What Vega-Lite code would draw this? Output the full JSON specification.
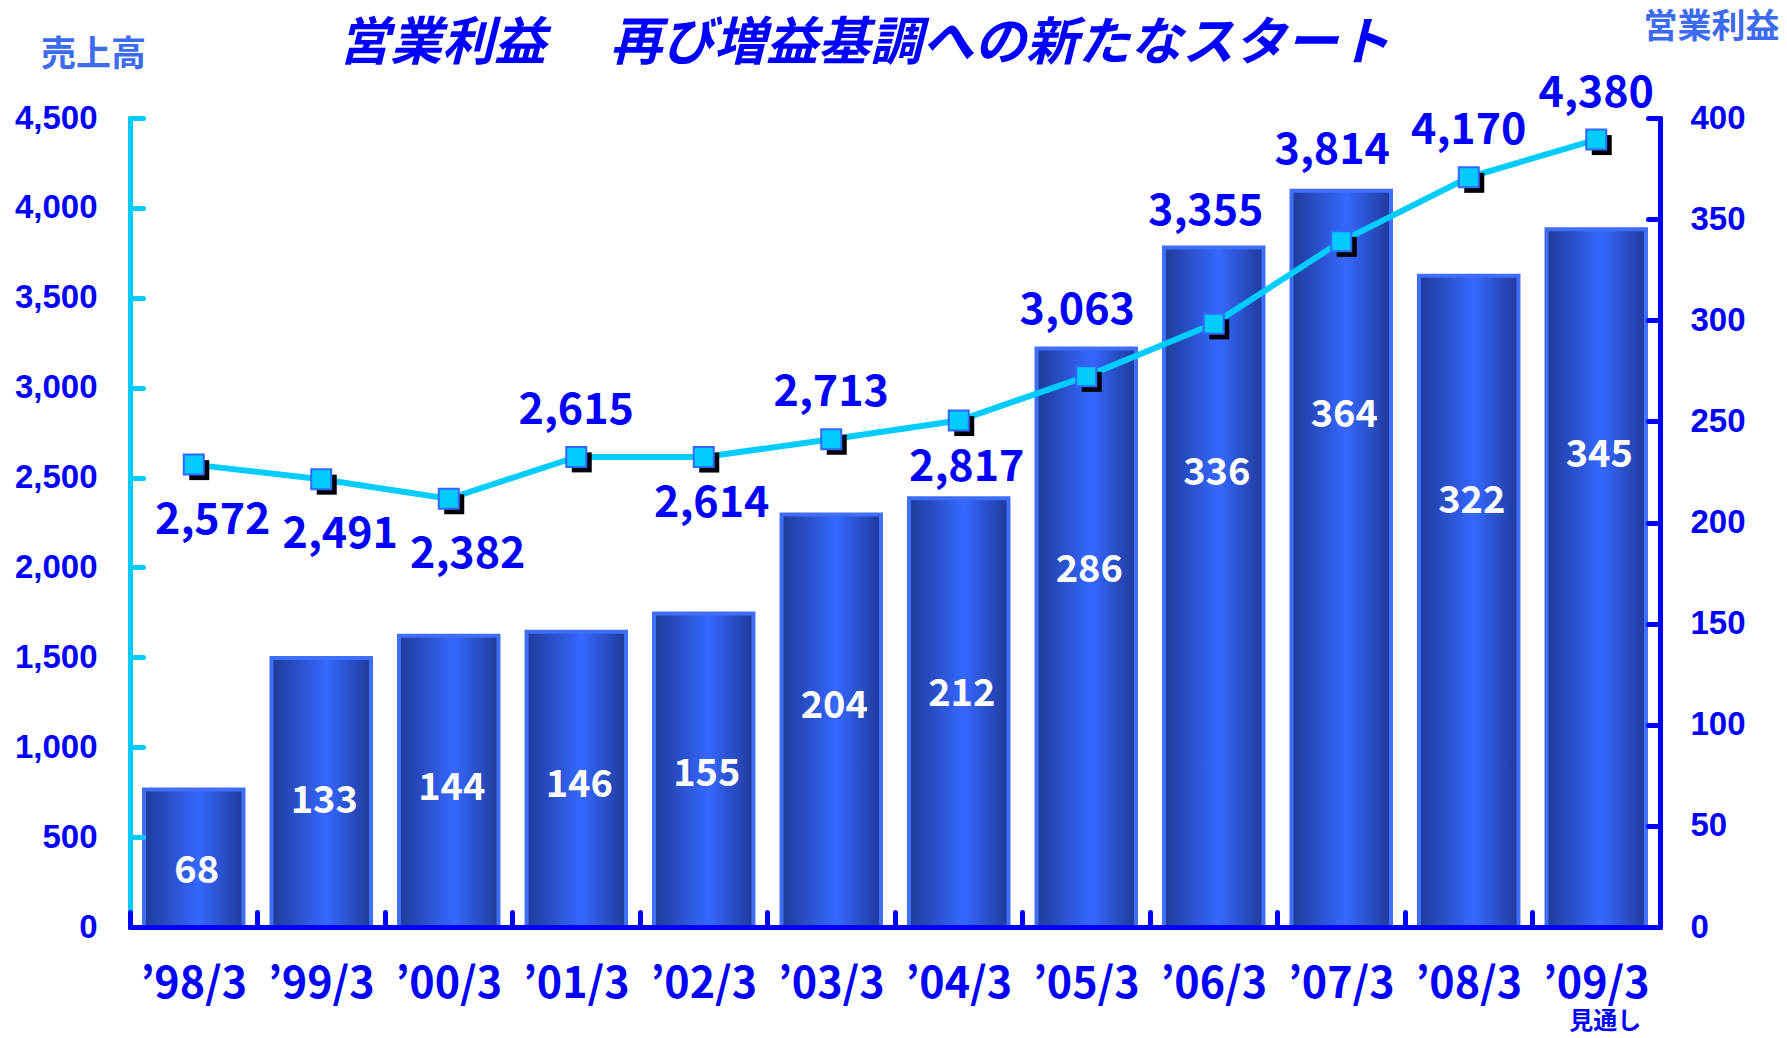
{
  "$schema": "https://vega.github.io/schema/vega-lite/v6.json",
  "width": 1530,
  "height": 809,
  "autosize": "none",
  "padding": {"left": 130, "top": 118, "right": 127, "bottom": 111},
  "background": "white",
  "config": {"view": {"stroke": null}, "font": "Noto Sans CJK JP"},
  "title": {
    "text": "営業利益　 再び増益基調への新たなスタート",
    "font": "Noto Sans CJK JP",
    "fontSize": 52,
    "fontStyle": "italic",
    "fontWeight": "bold",
    "color": "#0000ff",
    "anchor": "middle",
    "baseline": "middle",
    "offset": -86,
    "dx": -31
  },
  "data": {
    "values": [
      {"year": "’98/3", "sales": 2572, "profit": 68},
      {"year": "’99/3", "sales": 2491, "profit": 133},
      {"year": "’00/3", "sales": 2382, "profit": 144},
      {"year": "’01/3", "sales": 2615, "profit": 146},
      {"year": "’02/3", "sales": 2614, "profit": 155},
      {"year": "’03/3", "sales": 2713, "profit": 204},
      {"year": "’04/3", "sales": 2817, "profit": 212},
      {"year": "’05/3", "sales": 3063, "profit": 286},
      {"year": "’06/3", "sales": 3355, "profit": 336},
      {"year": "’07/3", "sales": 3814, "profit": 364},
      {"year": "’08/3", "sales": 4170, "profit": 322},
      {"year": "’09/3", "sales": 4380, "profit": 345}
    ]
  },
  "encoding": {
    "x": {
      "field": "year",
      "type": "ordinal",
      "sort": null,
      "scale": {"paddingInner": 0, "paddingOuter": 0},
      "axis": {
        "title": null,
        "orient": "bottom",
        "zindex": 2,
        "domainColor": "#0000ff",
        "domainWidth": 5,
        "domainCap": "round",
        "ticks": true,
        "tickColor": "#0000ff",
        "tickWidth": 5,
        "tickSize": -15,
        "tickCap": "round",
        "bandPosition": 0,
        "labelAngle": 0,
        "labelAlign": "center",
        "labelBaseline": "alphabetic",
        "labelPadding": 85,
        "labelFont": "Noto Sans CJK JP",
        "labelFontSize": 43,
        "labelFontWeight": "bold",
        "labelColor": "#0000ff",
        "labelOverlap": false,
        "labelFlush": false
      }
    }
  },
  "layer": [
    {
      "layer": [
        {
          "mark": {
            "type": "bar",
            "width": {"band": 0.78},
            "fill": {
              "gradient": "linear",
              "x1": 0, "y1": 0, "x2": 1, "y2": 0,
              "stops": [
                {"offset": 0, "color": "#1f3a99"},
                {"offset": 0.55, "color": "#3568ff"},
                {"offset": 1, "color": "#1f3a99"}
              ]
            },
            "stroke": "#3f6ef8",
            "strokeWidth": 4
          },
          "encoding": {
            "y": {
              "field": "profit",
              "type": "quantitative",
              "scale": {"domain": [0, 400], "nice": false},
              "axis": {
                "orient": "right",
                "zindex": 1,
                "title": "営業利益",
                "titleAngle": 0,
                "titleX": 51,
                "titleY": -91,
                "titleAlign": "center",
                "titleBaseline": "middle",
                "titleFont": "Noto Sans CJK JP",
                "titleFontSize": 34,
                "titleFontWeight": "bold",
                "titleColor": "#3d6bf0",
                "values": [0, 50, 100, 150, 200, 250, 300, 350, 400],
                "format": "d",
                "grid": false,
                "labelFont": "Liberation Sans",
                "labelFontSize": 33,
                "labelFontWeight": "bold",
                "labelColor": "#0000ff",
                "labelPadding": 42,
                "labelFlush": false,
                "tickSize": -12,
                "tickWidth": 5,
                "tickColor": "#0000ff",
                "tickCap": "round",
                "domainColor": "#0000ff",
                "domainWidth": 5,
                "domainCap": "round"
              }
            }
          }
        },
        {
          "transform": [{"calculate": "datum.profit * (0.33 + 0.001 * datum.profit)", "as": "labelPos"}],
          "mark": {
            "type": "text",
            "color": "white",
            "font": "Noto Sans CJK JP",
            "fontSize": 38,
            "fontWeight": "bold",
            "baseline": "middle",
            "align": "center",
            "dx": 3
          },
          "encoding": {
            "y": {"field": "labelPos", "type": "quantitative"},
            "text": {"field": "profit", "type": "quantitative"}
          }
        },
        {
          "transform": [{"filter": "datum.year === '’09/3'"}],
          "mark": {
            "type": "text",
            "text": "見通し",
            "color": "#0000ff",
            "font": "Noto Sans CJK JP",
            "fontSize": 24,
            "fontWeight": "bold",
            "baseline": "middle",
            "align": "center",
            "dx": 9,
            "dy": 95
          },
          "encoding": {
            "y": {"datum": 0, "type": "quantitative"}
          }
        }
      ]
    },
    {
      "layer": [
        {
          "mark": {"type": "line", "color": "#00ccff", "strokeWidth": 6},
          "encoding": {
            "y": {
              "field": "sales",
              "type": "quantitative",
              "scale": {"domain": [0, 4500], "nice": false},
              "axis": {
                "orient": "left",
                "zindex": 1,
                "title": "売上高",
                "titleAngle": 0,
                "titleX": -37,
                "titleY": -64,
                "titleAlign": "center",
                "titleBaseline": "middle",
                "titleFont": "Noto Sans CJK JP",
                "titleFontSize": 35,
                "titleFontWeight": "bold",
                "titleColor": "#3d6bf0",
                "values": [0, 500, 1000, 1500, 2000, 2500, 3000, 3500, 4000, 4500],
                "format": ",d",
                "grid": false,
                "labelFont": "Liberation Sans",
                "labelFontSize": 33,
                "labelFontWeight": "bold",
                "labelColor": "#0000ff",
                "labelPadding": 46,
                "labelFlush": false,
                "tickSize": -13,
                "tickWidth": 5,
                "tickColor": "#00ccff",
                "tickCap": "round",
                "domainColor": "#00ccff",
                "domainWidth": 5,
                "domainCap": "round"
              }
            }
          }
        },
        {
          "mark": {
            "type": "point",
            "shape": "M -0.45 -0.45 L 1.55 -0.45 L 1.55 1.55 L -0.45 1.55 Z",
            "filled": true,
            "fill": "black",
            "opacity": 1,
            "size": 400
          },
          "encoding": {"y": {"field": "sales", "type": "quantitative"}}
        },
        {
          "mark": {
            "type": "point",
            "shape": "square",
            "filled": true,
            "fill": "#00ccff",
            "stroke": "#3366ff",
            "strokeWidth": 2,
            "opacity": 1,
            "size": 400
          },
          "encoding": {"y": {"field": "sales", "type": "quantitative"}}
        },
        {
          "transform": [{"filter": {"field": "year", "oneOf": ["’98/3", "’99/3", "’00/3"]}}],
          "mark": {"type": "text", "font": "Noto Sans CJK JP", "fontSize": 43, "fontWeight": "bold", "color": "#0000ff", "baseline": "middle", "align": "center", "dx": 19, "dy": 56},
          "encoding": {"y": {"field": "sales", "type": "quantitative"}, "text": {"field": "sales", "type": "quantitative", "format": ","}}
        },
        {
          "transform": [{"filter": {"field": "year", "oneOf": ["’02/3", "’04/3"]}}],
          "mark": {"type": "text", "font": "Noto Sans CJK JP", "fontSize": 43, "fontWeight": "bold", "color": "#0000ff", "baseline": "middle", "align": "center", "dx": 8, "dy": 47},
          "encoding": {"y": {"field": "sales", "type": "quantitative"}, "text": {"field": "sales", "type": "quantitative", "format": ","}}
        },
        {
          "transform": [{"filter": {"field": "year", "oneOf": ["’01/3", "’03/3", "’08/3", "’09/3"]}}],
          "mark": {"type": "text", "font": "Noto Sans CJK JP", "fontSize": 43, "fontWeight": "bold", "color": "#0000ff", "baseline": "middle", "align": "center", "dx": 0, "dy": -46},
          "encoding": {"y": {"field": "sales", "type": "quantitative"}, "text": {"field": "sales", "type": "quantitative", "format": ","}}
        },
        {
          "transform": [{"filter": {"field": "year", "oneOf": ["’05/3"]}}],
          "mark": {"type": "text", "font": "Noto Sans CJK JP", "fontSize": 43, "fontWeight": "bold", "color": "#0000ff", "baseline": "middle", "align": "center", "dx": -9, "dy": -65},
          "encoding": {"y": {"field": "sales", "type": "quantitative"}, "text": {"field": "sales", "type": "quantitative", "format": ","}}
        },
        {
          "transform": [{"filter": {"field": "year", "oneOf": ["’07/3"]}}],
          "mark": {"type": "text", "font": "Noto Sans CJK JP", "fontSize": 43, "fontWeight": "bold", "color": "#0000ff", "baseline": "middle", "align": "center", "dx": -9, "dy": -90},
          "encoding": {"y": {"field": "sales", "type": "quantitative"}, "text": {"field": "sales", "type": "quantitative", "format": ","}}
        },
        {
          "transform": [{"filter": {"field": "year", "oneOf": ["’06/3"]}}],
          "mark": {"type": "text", "font": "Noto Sans CJK JP", "fontSize": 43, "fontWeight": "bold", "color": "#0000ff", "baseline": "middle", "align": "center", "dx": -8, "dy": -112},
          "encoding": {"y": {"field": "sales", "type": "quantitative"}, "text": {"field": "sales", "type": "quantitative", "format": ","}}
        }
      ]
    }
  ],
  "resolve": {"scale": {"y": "independent"}}
}
